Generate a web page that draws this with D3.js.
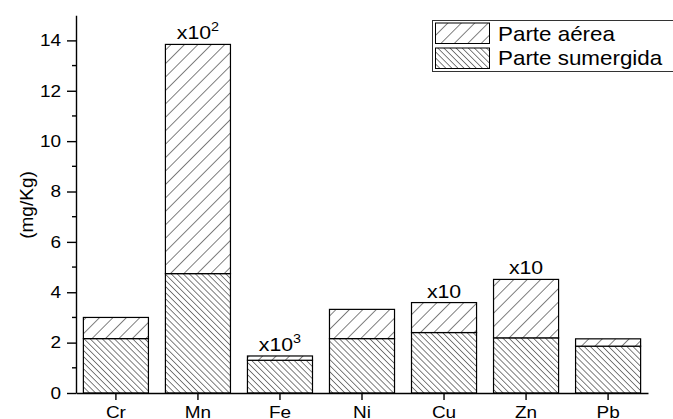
<!DOCTYPE html>
<html><head><meta charset="utf-8">
<script src="https://cdn.jsdelivr.net/npm/d3@7/dist/d3.min.js"></script>
<style>
html,body{margin:0;padding:0;background:#fff;}
svg{display:block;font-family:"Liberation Sans",Arial,sans-serif;}
</style></head>
<body>
<svg id="chart" width="673" height="419"></svg>
<script>
// ---- data ----
const categories = ["Cr","Mn","Fe","Ni","Cu","Zn","Pb"];
const sumergida = [2.16, 4.74, 1.30, 2.16, 2.40, 2.19, 1.86];   // lower part
const aerea     = [0.84, 9.10, 0.17, 1.16, 1.19, 2.32, 0.29];   // upper part (stacked)
const multipliers = ["", "x10|2", "x10|3", "", "x10", "x10", ""];
const yTicks = [0,2,4,6,8,10,12,14];
const seriesNames = ["Parte aérea","Parte sumergida"];

const svg = d3.select("#chart");
const TX = 1.15; // horizontal text stretch

const x = d3.scaleBand().domain(categories).range([76, 648]).paddingInner(0.207).paddingOuter(0.09);
const y = d3.scaleLinear().domain([0, 15]).range([393, 15.2]);

// patterns
const defs = svg.append("defs");
function hatch(id, spacing, angle){
  const p = defs.append("pattern").attr("id", id).attr("patternUnits","userSpaceOnUse")
    .attr("width", spacing).attr("height", spacing).attr("patternTransform", `rotate(${angle})`);
  p.append("rect").attr("width", spacing).attr("height", spacing).attr("fill","#fff");
  p.append("line").attr("x1",0).attr("y1",0).attr("x2",0).attr("y2",spacing)
    .attr("stroke","#000").attr("stroke-width",1);
}
hatch("hAerea", 9.5, 45);
hatch("hSum", 4.3, -45);

const data = categories.map((c,i)=>({cat:c, sumergida:sumergida[i], aerea:aerea[i]}));
const stack = d3.stack().keys(["sumergida","aerea"])(data);
const fills = {sumergida:"url(#hSum)", aerea:"url(#hAerea)"};

svg.append("g").selectAll("g").data(stack).join("g")
  .attr("fill", d=>fills[d.key])
  .selectAll("rect").data(d=>d).join("rect")
  .attr("x", d=>x(d.data.cat))
  .attr("width", x.bandwidth())
  .attr("y", d=>y(d[1]))
  .attr("height", d=>y(d[0]) - y(d[1]))
  .attr("stroke","#000").attr("stroke-width",1.2);

// multiplier annotations
const totals = data.map(d=>d.sumergida + d.aerea);
multipliers.forEach((m,i)=>{
  if(!m) return;
  const [base, sup] = m.split("|");
  const cx = x(categories[i]) + x.bandwidth()/2;
  const by = y(totals[i]) - 5;
  const t = svg.append("text")
    .attr("transform", `translate(${cx},${by}) scale(${TX},1)`)
    .attr("text-anchor","middle").attr("font-size",18.5).attr("fill","#000");
  t.append("tspan").text(base);
  if(sup) t.append("tspan").attr("font-size",12.5).attr("dy",-8).text(sup);
});

// y axis
const yAxis = d3.axisLeft(y).tickValues(yTicks).tickSize(9).tickSizeOuter(0).tickPadding(6);
const gy = svg.append("g").attr("transform","translate(76,0)").call(yAxis);
gy.select(".domain").attr("stroke","#000").attr("stroke-width",1.4);
gy.selectAll(".tick line").attr("stroke","#000").attr("stroke-width",1.4);
gy.selectAll(".tick text").attr("font-size",16.5).attr("fill","#000")
  .attr("font-family","Liberation Sans, Arial, sans-serif")
  .each(function(){ const t=d3.select(this); const xx=+t.attr("x"); t.attr("x",null)
     .attr("transform",`translate(${xx},0) scale(${TX},1)`); });
// minor ticks
svg.append("g").selectAll("line").data(d3.range(1,15,2)).join("line")
  .attr("x1",72).attr("x2",76).attr("y1",d=>y(d)).attr("y2",d=>y(d))
  .attr("stroke","#000").attr("stroke-width",1.4);

// x axis
const xAxis = d3.axisBottom(x).tickSize(7).tickSizeOuter(0).tickPadding(5);
const gx = svg.append("g").attr("transform","translate(0,393)").call(xAxis);
gx.select(".domain").attr("stroke","#000").attr("stroke-width",1.4);
gx.selectAll(".tick line").attr("stroke","#000").attr("stroke-width",1.4);
gx.selectAll(".tick text").attr("font-size",16.5).attr("fill","#000")
  .attr("font-family","Liberation Sans, Arial, sans-serif")
  .attr("dy",null).attr("y",null)
  .attr("transform",`translate(0,25) scale(${TX},1)`);

// y axis title
svg.append("text").attr("transform","translate(33,205) rotate(-90)")
  .attr("text-anchor","middle").attr("font-size",19).attr("fill","#000").text("(mg/Kg)");

// legend
const lg = svg.append("g");
lg.append("rect").attr("x",432.5).attr("y",20.5).attr("width",250).attr("height",51)
  .attr("fill","#fff").attr("stroke","#333").attr("stroke-width",1);
const legendFills = ["url(#hAerea)","url(#hSum)"];
seriesNames.forEach((n,i)=>{
  lg.append("rect").attr("x",435.5).attr("y",23 + i*25).attr("width",54).attr("height",20.5)
    .attr("fill",legendFills[i]).attr("stroke","#000").attr("stroke-width",1);
  lg.append("text").attr("transform",`translate(498,${41 + i*24}) scale(1.12,1)`)
    .attr("font-size",20).attr("fill","#000").text(n);
});
</script>
</body></html>
